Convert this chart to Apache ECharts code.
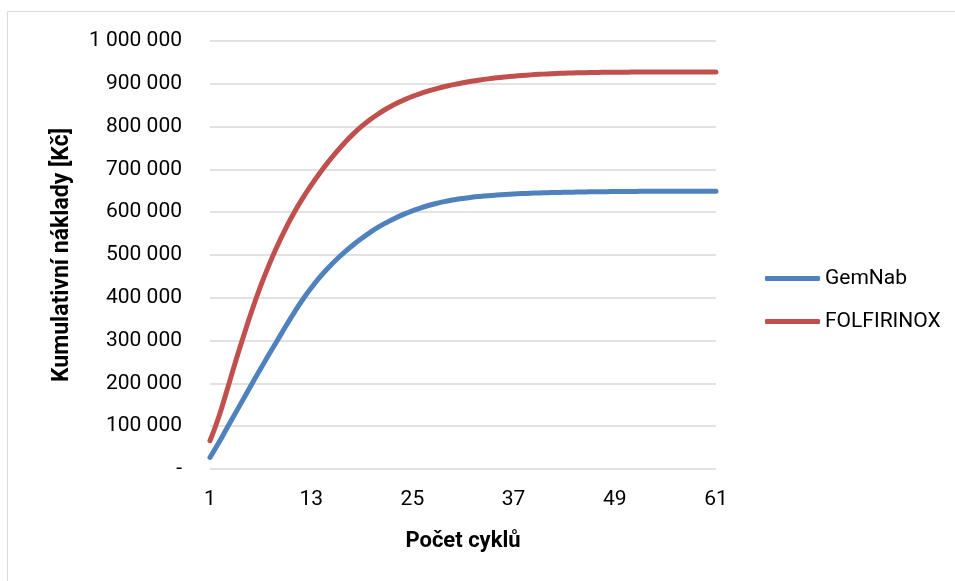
<!DOCTYPE html>
<html>
<head>
<meta charset="utf-8">
<script src="https://cdn.jsdelivr.net/npm/echarts@6/dist/echarts.min.js"></script>
<style>
  html, body { margin: 0; padding: 0; background: #fff; }
  #chart { width: 955px; height: 581px; }
</style>
</head>
<body>
<div id="chart"></div>
<script>
// Cycle numbers 1..61
const cycles = [];
for (let c = 1; c <= 61; c++) cycles.push(String(c));

// Cumulative costs [Kč] per cycle
const gemNab = [
  27000, 60000, 95000, 130000, 165000, 200000, 234000, 268000, 301000, 334000,
  366000, 396000, 423000, 447500, 469500, 489500, 507500, 524000, 539000, 553000,
  565500, 576500, 586500, 595400, 603300, 610200, 616200, 621300, 625600, 629200,
  632200, 634700, 636800, 638600, 640100, 641400, 642500, 643450, 644250, 644950,
  645550, 646050, 646500, 646900, 647250, 647550, 647820, 648060, 648260, 648430,
  648580, 648700, 648800, 648880, 648940, 648990, 649030, 649060, 649080, 649100,
  649100
];
const folfirinox = [
  66000, 119000, 183000, 249000, 312000, 372000, 427000, 477000, 522000, 563000,
  600000, 633000, 663000, 691000, 717000, 741000, 763000, 783000, 801000, 816500,
  830300, 842500, 853200, 862500, 870600, 877700, 883900, 889400, 894300, 898600,
  902400, 905800, 908800, 911500, 913900, 916000, 917850, 919450, 920850, 922050,
  923100, 924000, 924750, 925370, 925870, 926270, 926590, 926840, 927040, 927190,
  927310, 927410, 927490, 927550, 927600, 927640, 927670, 927690, 927710, 927720,
  927730
];

const seriesNames = ['GemNab', 'FOLFIRINOX'];
const seriesColors = ['#4F81BD', '#C0504D'];

const FONT = 'Roboto, "Open Sans", sans-serif';

function formatThousands(v) {
  if (v === 0) return '-';
  return String(v).replace(/\B(?=(\d{3})+(?!\d))/g, ' ');
}

const chart = echarts.init(document.getElementById('chart'), null, { renderer: 'canvas' });

chart.setOption({
  backgroundColor: '#ffffff',
  animation: false,
  graphic: [{
    type: 'rect',
    shape: { x: 7.5, y: 11.5, width: 1200, height: 1200 },
    style: { fill: 'none', stroke: '#d9d9d9', lineWidth: 1 },
    silent: true
  }],
  grid: { left: 210, right: 239, top: 41, bottom: 112 },
  legend: {
    orient: 'vertical',
    left: 760,
    top: 263,
    icon: 'roundRect',
    itemWidth: 55,
    itemHeight: 5,
    itemGap: 22,
    textStyle: { fontFamily: FONT, fontSize: 21, color: '#000' },
    data: seriesNames
  },
  xAxis: {
    type: 'category',
    data: cycles,
    boundaryGap: false,
    axisLine: { show: false },
    axisTick: { show: false },
    axisLabel: { interval: 11, fontFamily: FONT, fontSize: 21, color: '#000', margin: 20 },
    name: 'Počet cyklů',
    nameLocation: 'middle',
    nameGap: 61,
    nameTextStyle: { fontFamily: FONT, fontSize: 22, fontWeight: 'bold', color: '#000' }
  },
  yAxis: {
    type: 'value',
    min: 0,
    max: 1000000,
    interval: 100000,
    axisLine: { show: false },
    axisTick: { show: false },
    splitLine: { lineStyle: { color: '#d9d9d9', width: 1.5 } },
    axisLabel: { fontFamily: FONT, fontSize: 21, color: '#000', margin: 28, formatter: formatThousands },
    name: 'Kumulativní náklady [Kč]',
    nameLocation: 'middle',
    nameGap: 136,
    nameTextStyle: { fontFamily: FONT, fontSize: 23, fontWeight: 'bold', color: '#000' }
  },
  series: [
    {
      name: seriesNames[0],
      type: 'line',
      data: gemNab,
      smooth: 0.5,
      symbol: 'none',
      color: seriesColors[0],
      lineStyle: { width: 5, color: seriesColors[0], cap: 'round' }
    },
    {
      name: seriesNames[1],
      type: 'line',
      data: folfirinox,
      smooth: 0.5,
      symbol: 'none',
      color: seriesColors[1],
      lineStyle: { width: 5, color: seriesColors[1], cap: 'round' }
    }
  ]
});
</script>
</body>
</html>
